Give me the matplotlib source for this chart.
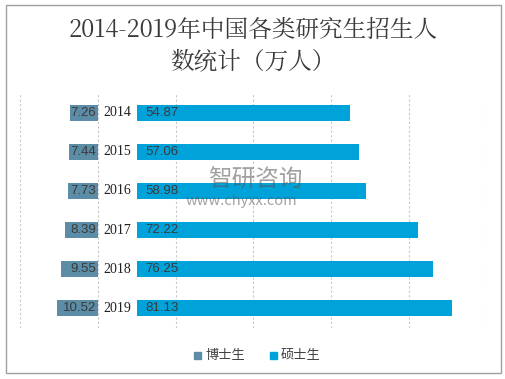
import matplotlib.pyplot as plt
from matplotlib.patches import Rectangle

plt.rcParams['font.family'] = ['Noto Sans CJK SC', 'DejaVu Sans']

years = ['2014', '2015', '2016', '2017', '2018', '2019']
doctor = [7.26, 7.44, 7.73, 8.39, 9.55, 10.52]
master = [54.87, 57.06, 58.98, 72.22, 76.25, 81.13]

c_doc = '#5B8DA6'
c_mas = '#00A2DA'
gap = 10  # space reserved for year labels

fig = plt.figure(figsize=(5.06, 3.79), dpi=100)
ax = fig.add_axes([20 / 506, 1 - 328 / 379, 467 / 506, 235 / 379])

y = list(range(len(years)))
ax.barh(y, [-d for d in doctor], height=0.41, color=c_doc, zorder=2)
ax.barh(y, master, left=gap, height=0.41, color=c_mas, zorder=2)

lbl_font = ['Liberation Sans', 'DejaVu Sans']
for i in y:
    ax.text(-0.5, i, f'{doctor[i]:.2f}', ha='right', va='center', fontsize=9.5,
            color='#3A3A3A', family=lbl_font, zorder=3)
    ax.text(gap + 2.3, i, f'{master[i]:.2f}', ha='left', va='center', fontsize=9.5,
            color='#3A3A3A', family=lbl_font, zorder=3)
    ax.text(gap / 2, i, years[i], ha='center', va='center', fontsize=10,
            color='#202020', family=['Liberation Serif'], zorder=3)

ax.set_xlim(-20, 100)
ax.set_ylim(len(years) - 0.5, -0.5)
ax.set_xticks(range(-20, 101, 20))
ax.set_yticks([])
ax.tick_params(axis='x', length=0, labelbottom=False)
ax.grid(axis='x', color='#C8C8C8', linestyle=(0, (2, 2)), linewidth=0.8, zorder=0)
for s in ax.spines.values():
    s.set_visible(False)

title_font = ['Noto Serif CJK SC', 'Liberation Serif', 'Noto Sans CJK SC']
fig.text(0.5, 1 - 30 / 379, '2014-2019年中国各类研究生招生人', ha='center', va='center',
         fontsize=17, color='#3A3A3A', family=title_font)
fig.text(0.5, 1 - 61 / 379, '数统计（万人）', ha='center', va='center',
         fontsize=17, color='#3A3A3A', family=title_font)

# watermark
fig.text(208 / 506, 1 - 180 / 379, '智研咨询', ha='left', va='center', fontsize=17,
         color='#555555', alpha=0.55, zorder=5)
fig.text(186 / 506, 1 - 201 / 379, 'www.chyxx.com', ha='left', va='center', fontsize=10.5,
         color='#555555', alpha=0.55, zorder=5)

# legend
fig.patches.append(Rectangle((194 / 506, 1 - 359 / 379), 7 / 506, 7 / 379,
                             transform=fig.transFigure, color=c_doc))
fig.text(206 / 506, 1 - 355 / 379, '博士生', ha='left', va='center', fontsize=9.5,
         color='#404040', weight='medium')
fig.patches.append(Rectangle((270 / 506, 1 - 359 / 379), 7 / 506, 7 / 379,
                             transform=fig.transFigure, color=c_mas))
fig.text(281 / 506, 1 - 355 / 379, '硕士生', ha='left', va='center', fontsize=9.5,
         color='#404040', weight='medium')

# outer frame
fig.patches.append(Rectangle((6 / 506, 1 - 373 / 379), 495 / 506, 368 / 379,
                             transform=fig.transFigure, fill=False, edgecolor='#A0A0A0', linewidth=1))

fig.savefig('out.png', dpi=100)
